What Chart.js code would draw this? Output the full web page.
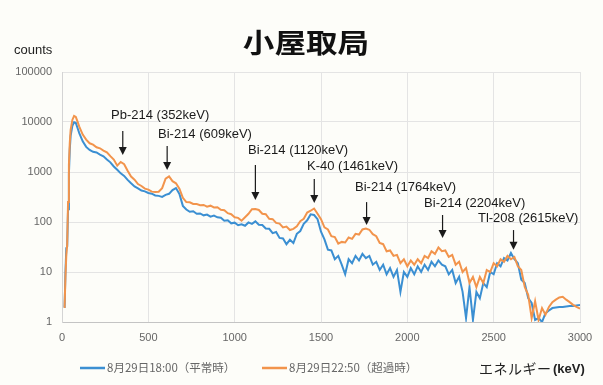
<!DOCTYPE html>
<html>
<head>
<meta charset="utf-8">
<script src="https://cdn.jsdelivr.net/npm/chart.js@4.4.1/dist/chart.umd.min.js"></script>
<style>
  html, body { margin: 0; padding: 0; background: #fdfdf9; }
  #wrap { width: 603px; height: 385px; }
</style>
</head>
<body>
<div id="wrap"><canvas id="c" width="603" height="385"></canvas></div>
<script>
// Gamma-ray spectrum, 小屋取局 monitoring post
const chartTitle = '小屋取局';
const seriesNames = ['8月29日18:00（平常時）', '8月29日22:50（超過時）'];

// channel energies (keV)
const energy = [
  10, 15, 20, 25, 30, 35, 40, 45, 50, 60, 70, 80, 90, 100,
  120, 140, 160, 180, 200, 220, 240, 260, 280, 300, 320, 340, 360, 380, 400,
  420, 440, 460, 480, 500, 520, 540, 560, 580, 600, 620, 640, 660, 680, 700,
  720, 740, 760, 780, 800, 820, 840, 860, 880, 900, 920, 940, 960, 980, 1000,
  1020, 1040, 1060, 1080, 1100, 1120, 1140, 1160, 1180, 1200, 1220, 1240, 1260, 1280, 1300,
  1320, 1340, 1360, 1380, 1400, 1420, 1440, 1460, 1480, 1500, 1520, 1540, 1560, 1580, 1600,
  1620, 1640, 1660, 1680, 1700, 1720, 1740, 1760, 1780, 1800, 1820, 1840, 1860, 1880, 1900,
  1920, 1940, 1960, 1980, 2000, 2020, 2040, 2060, 2080, 2100, 2120, 2140, 2160, 2180, 2200,
  2220, 2240, 2260, 2280, 2300, 2320, 2340, 2360, 2380, 2400, 2420, 2440, 2460, 2480, 2500,
  2520, 2540, 2560, 2580, 2600, 2620, 2640, 2660, 2680, 2700, 2720, 2740, 2760, 2780, 2800,
  2820, 2840, 2860, 2880, 2900, 2920, 2940, 2960, 2980, 3000
];

// 8/29 18:00 (normal)
const countsNormal = [
  2, 2, 10, 30, 32, 180, 900, 2800, 5300, 8400, 9900, 9600, 7600, 6000,
  4100, 3180, 2760, 2530, 2460, 2230, 2060, 1780, 1560, 1290, 1110, 940, 835, 695, 595,
  515, 470, 425, 410, 380, 368, 340, 333, 318, 348, 366, 435, 478, 365, 210,
  178, 160, 164, 146, 148, 136, 141, 128, 134, 124, 122, 106, 108, 94, 97,
  86, 90, 84, 98, 92, 103, 88, 87, 74, 73, 60, 63, 48, 47, 36,
  44, 38, 58, 66, 92, 108, 142, 138, 114, 64, 45, 28, 27, 18, 21,
  14, 9, 18, 15, 21, 17, 23, 19, 21, 14, 16, 11, 14, 9, 12,
  8, 11, 4, 10, 8, 12, 9, 13, 10, 14, 11, 16, 13, 17, 14,
  13, 9, 11, 6, 8, 4, 1.2, 5, 1.1, 4, 3, 6, 5, 10, 9,
  15, 13, 19, 17, 24, 18, 15, 7, 6, 3, 2.4, 1.1, 1.2, 1.0, 1.5,
  1.7, 1.9, 1.95, 2.0, 2.0, 2.05, 2.1, 2.1, 2.15, 2.2
];

// 8/29 22:50 (above threshold)
const countsExceed = [
  2, 2, 8, 22, 35, 250, 1400, 3800, 7000, 11000, 13200, 12600, 10200, 8100,
  5600, 4450, 3750, 3520, 3130, 2980, 2680, 2480, 2080, 1770, 1340, 1590, 1430, 1060, 810,
  700, 575, 525, 465, 445, 405, 398, 402, 475, 735, 815, 655, 595, 465, 305,
  250, 248, 230, 228, 216, 219, 202, 212, 196, 198, 176, 172, 150, 143, 124,
  121, 106, 124, 146, 180, 182, 174, 146, 143, 116, 114, 96, 93, 78, 81,
  69, 73, 82, 104, 116, 155, 168, 186, 146, 114, 78, 71, 52, 50, 37,
  40, 39, 49, 46, 58, 56, 71, 74, 70, 57, 52, 38, 36, 26, 27,
  21, 22, 15, 18, 13, 17, 14, 18, 15, 21, 19, 26, 23, 31, 26,
  27, 20, 22, 14, 16, 10, 12, 6, 8, 5, 8, 6, 11, 10, 15,
  13, 18, 16, 21, 18, 20, 13, 11, 5, 3.5, 1.2, 2.6, 1.1, 1.9, 1.4,
  2.0, 2.5, 2.8, 3.1, 3.2, 2.8, 2.5, 2.2, 2.0, 1.85
];

const xTicks = [0, 500, 1000, 1500, 2000, 2500, 3000];
const yTicks = [1, 10, 100, 1000, 10000, 100000];

// peak labels with arrows: arrow at the peak energy, label anchored by its left edge
const peaks = [
  { text: 'Pb-214 (352keV)',  keV: 352,  tail: 6600, tip: 2190, labelKeV: 284,  labelCounts: 13800 },
  { text: 'Bi-214 (609keV)',  keV: 609,  tail: 3300, tip: 1100, labelKeV: 556,  labelCounts: 5750 },
  { text: 'Bi-214 (1120keV)', keV: 1120, tail: 1380, tip: 275,  labelKeV: 1077, labelCounts: 2750 },
  { text: 'K-40 (1461keV)',   keV: 1461, tail: 725,  tip: 240,  labelKeV: 1419, labelCounts: 1320 },
  { text: 'Bi-214 (1764keV)', keV: 1764, tail: 250,  tip: 87,   labelKeV: 1697, labelCounts: 500 },
  { text: 'Bi-214 (2204keV)', keV: 2204, tail: 138,  tip: 48,   labelKeV: 2097, labelCounts: 240 },
  { text: 'Tl-208 (2615keV)', keV: 2615, tail: 69,   tip: 28,   labelKeV: 2409, labelCounts: 120 }
];

const BLUE = '#3b8fd2';
const ORANGE = '#f2944c';

const toXY = (ys) => energy.map((e, i) => ({ x: e, y: ys[i] }));

const decorations = {
  id: 'decorations',
  beforeDraw(chart) {
    const ctx = chart.ctx;
    ctx.save();
    ctx.fillStyle = '#fdfdf9';
    ctx.fillRect(0, 0, chart.width, chart.height);
    ctx.restore();
  },
  afterDraw(chart) {
    const ctx = chart.ctx;
    const xs = chart.scales.x, ys = chart.scales.y;
    ctx.save();

    // title
    ctx.fillStyle = '#111';
    ctx.font = 'bold 27px "Noto Sans CJK JP"';
    ctx.textAlign = 'center';
    ctx.textBaseline = 'middle';
    ctx.save();
    ctx.translate(306, 43);
    ctx.scale(1.17, 1);
    ctx.fillText(chartTitle, 0, 0);
    ctx.restore();

    // y unit
    ctx.fillStyle = '#222';
    ctx.font = '13px "Liberation Sans"';
    ctx.textAlign = 'left';
    ctx.fillText('counts', 14, 50);

    // x axis title
    ctx.font = '14px "Noto Sans CJK JP"';
    ctx.textAlign = 'left';
    const kana = ['エ', 'ネ', 'ル', 'ギ', 'ー'];
    kana.forEach((k, i) => ctx.fillText(k, 479 + i * 14.5, 369));
    ctx.font = 'bold 13px "Liberation Sans"';
    ctx.fillText('(keV)', 553, 369);

    // legend
    const legendItems = [
      { x: 80, color: BLUE, label: seriesNames[0] },
      { x: 262, color: ORANGE, label: seriesNames[1] }
    ];
    ctx.font = '11.5px "Noto Sans CJK JP"';
    legendItems.forEach(it => {
      ctx.strokeStyle = it.color;
      ctx.lineWidth = 2.5;
      ctx.beginPath();
      ctx.moveTo(it.x, 368);
      ctx.lineTo(it.x + 25, 368);
      ctx.stroke();
      ctx.fillStyle = '#666';
      ctx.fillText(it.label, it.x + 27, 368);
    });

    // peak annotations
    ctx.font = '13px "Liberation Sans"';
    ctx.fillStyle = '#1a1a1a';
    ctx.strokeStyle = '#1a1a1a';
    peaks.forEach(p => {
      const lx = xs.getPixelForValue(p.labelKeV);
      const ly = ys.getPixelForValue(p.labelCounts);
      ctx.textAlign = 'left';
      ctx.textBaseline = 'middle';
      ctx.fillText(p.text, lx, ly);

      const ax = xs.getPixelForValue(p.keV);
      const y0 = ys.getPixelForValue(p.tail);
      const y1 = ys.getPixelForValue(p.tip);
      ctx.lineWidth = 1.2;
      ctx.beginPath();
      ctx.moveTo(ax, y0);
      ctx.lineTo(ax, y1 - 7);
      ctx.stroke();
      ctx.beginPath();
      ctx.moveTo(ax - 4, y1 - 8);
      ctx.lineTo(ax + 4, y1 - 8);
      ctx.lineTo(ax, y1);
      ctx.closePath();
      ctx.fill();
    });
    ctx.restore();
  }
};

new Chart(document.getElementById('c'), {
  type: 'line',
  data: {
    datasets: [
      { label: seriesNames[0], data: toXY(countsNormal), borderColor: BLUE, backgroundColor: BLUE,
        borderWidth: 2, pointRadius: 0, tension: 0, order: 2 },
      { label: seriesNames[1], data: toXY(countsExceed), borderColor: ORANGE, backgroundColor: ORANGE,
        borderWidth: 2, pointRadius: 0, tension: 0, order: 1 }
    ]
  },
  options: {
    responsive: false,
    animation: false,
    events: [],
    layout: { padding: { left: 0, right: 23, top: 72, bottom: 33 } },
    plugins: { legend: { display: false }, title: { display: false }, tooltip: { enabled: false } },
    scales: {
      x: {
        type: 'linear', min: 0, max: 3000,
        afterBuildTicks: (s) => { s.ticks = xTicks.map(v => ({ value: v })); },
        afterFit: (s) => { s.height = 30; },
        grid: { color: '#e4e4e4', drawTicks: false },
        border: { color: '#c4c4c4' },
        ticks: { padding: 9, color: '#666', font: { family: 'Liberation Sans', size: 11 },
                 callback: (v) => String(v), maxRotation: 0 }
      },
      y: {
        type: 'logarithmic', min: 1, max: 100000,
        afterBuildTicks: (s) => { s.ticks = yTicks.map(v => ({ value: v })); },
        afterFit: (s) => { s.width = 62; },
        grid: { color: '#e4e4e4', drawTicks: false },
        border: { color: '#d4d4d4' },
        ticks: { padding: 10, color: '#666', font: { family: 'Liberation Sans', size: 11 },
                 callback: (v) => String(v) }
      }
    }
  },
  plugins: [decorations]
});
</script>
</body>
</html>
